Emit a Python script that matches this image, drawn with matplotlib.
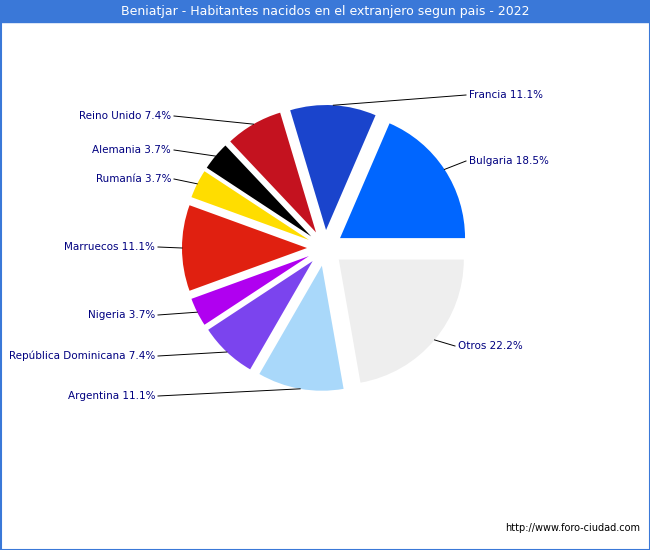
import numpy as np
import matplotlib
matplotlib.use("Agg")
import matplotlib.pyplot as plt

labels = ["Bulgaria", "Francia", "Reino Unido", "Alemania", "Rumanía", "Marruecos",
          "Nigeria", "República Dominicana", "Argentina", "Otros"]
values = [18.5, 11.1, 7.4, 3.7, 3.7, 11.1, 3.7, 7.4, 11.1, 22.2]
colors = ["#0066ff", "#1a44cc", "#c4121f", "#000000", "#ffdd00", "#e02010",
          "#b000f0", "#7b44ee", "#a9d8fa", "#eeeeee"]

W, H = 650, 550
fig = plt.figure(figsize=(6.5, 5.5), dpi=100)
ax = fig.add_axes([0, 0, 1, 1])

cx, cy, R = 325, H - 248, 125
explode_px = 18
wedges, _ = ax.pie(values, colors=colors, startangle=0, counterclock=True,
                   radius=R, center=(cx, cy), explode=[explode_px] * len(values),
                   wedgeprops=dict(linewidth=0), frame=True)
ax.set_xlim(0, W); ax.set_ylim(0, H); ax.axis("off"); ax.set_aspect("equal")

text_pos = [(469, 161, "left"), (469, 95, "left"), (171, 116, "right"),
            (171, 150, "right"), (171, 179, "right"), (155, 247, "right"),
            (155, 315, "right"), (155, 356, "right"), (155, 396, "right"),
            (458, 346, "left")]
for w, lab, v, (tx, ty, ha) in zip(wedges, labels, values, text_pos):
    a = np.deg2rad((w.theta1 + w.theta2) / 2)
    ex, ey = w.center
    px, py = ex + R * np.cos(a), ey + R * np.sin(a)
    ty = H - ty
    lx = tx - 3 if ha == "left" else tx + 3
    ax.plot([px, lx], [py, ty], color="black", lw=0.7)
    ax.text(tx, ty, f"{lab} {v:.1f}%", ha=ha, va="center",
            fontsize=7.5, color="#000080")

ax.add_patch(plt.Rectangle((0, H - 22), W, 22, color="#3a78d8", zorder=5))
ax.text(W / 2, H - 11, "Beniatjar - Habitantes nacidos en el extranjero segun pais - 2022",
        ha="center", va="center", color="white", fontsize=9, zorder=6)
ax.add_patch(plt.Rectangle((0.5, 0.5), W - 1, H - 1, fill=False, ec="#3a78d8", lw=1.5, zorder=6))
ax.text(640, 22, "http://www.foro-ciudad.com", ha="right", va="center", fontsize=7, color="black")

fig.savefig("out.png", dpi=100)
